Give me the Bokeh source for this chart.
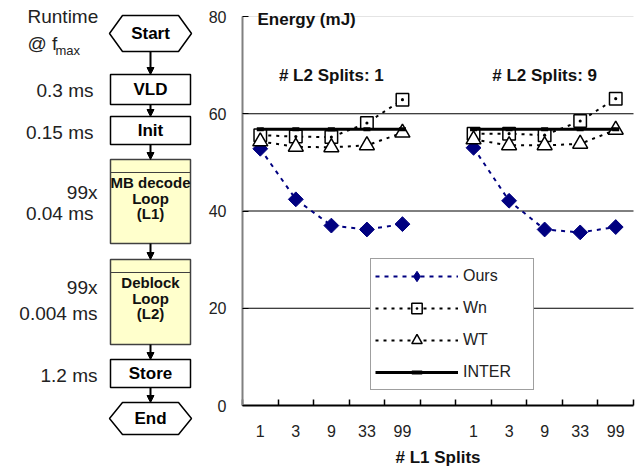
import numpy as np
from bokeh.plotting import figure
from bokeh.models import (Range1d, FixedTicker, Legend, LegendItem, Arrow, NormalHead,
                          ColumnDataSource, LinearAxis)
from bokeh.embed import file_html
from bokeh.resources import INLINE
from bokeh.core.properties import value

# ---------------- data ----------------
l1_splits = ["1", "3", "9", "33", "99"]
l2_splits = ["1", "9"]

ours_l2_1 = [52.8, 42.4, 37.0, 36.2, 37.3]
wn_l2_1 = [55.6, 55.3, 55.2, 58.1, 62.9]
wt_l2_1 = [54.3, 53.2, 53.1, 53.5, 56.1]
inter_l2_1 = [56.8, 56.8, 56.8, 56.8, 56.8]

ours_l2_9 = [53.0, 42.1, 36.2, 35.6, 36.7]
wn_l2_9 = [55.9, 55.9, 55.6, 58.5, 63.1]
wt_l2_9 = [54.7, 53.5, 53.5, 53.8, 56.7]
inter_l2_9 = [56.8, 56.8, 56.8, 56.8, 56.8]

y_ticks = [0, 20, 40, 60, 80]

# flowchart content
step_names = ["Start", "VLD", "Init", "MB decode|Loop|(L1)", "Deblock|Loop|(L2)", "Store", "End"]
step_kinds = ["terminal", "block", "block", "loop", "loop", "block", "terminal"]
runtime_labels = ["0.3 ms", "0.15 ms", "99x", "0.04 ms", "99x", "0.004 ms", "1.2 ms"]

FONT = value("Liberation Sans")

# ---------------- layout (page pixels) ----------------
W, H = 638, 466
chart_left, chart_right, chart_top, chart_bottom = 242, 633, 16, 405

n = len(l1_splits)
gap = 1
slots = [i for i in range(n)] + [n] + [n + gap + i for i in range(n)]
n_slots = len(slots)
x_pos = [s + 0.5 for s in slots]
tick_labels = l1_splits + [""] + l1_splits
y_max = y_ticks[-1]

px_x = (chart_right - chart_left) / n_slots
px_y = (chart_bottom - chart_top) / y_max
cx_start = -chart_left / px_x
cy_start = -(H - chart_bottom) / px_y

p = figure(width=W, height=H, x_range=Range1d(0, W), y_range=Range1d(H, 0),
           output_backend="svg", toolbar_location=None, min_border=0,
           x_axis_type=None, y_axis_type=None)
p.title.visible = False
p.grid.visible = False
p.outline_line_color = None
p.background_fill_color = "white"
p.border_fill_color = "white"
p.extra_x_ranges = {"cx": Range1d(cx_start, cx_start + W / px_x)}
p.extra_y_ranges = {"cy": Range1d(cy_start, cy_start + H / px_y)}

# ---------------- flowchart (left) ----------------
box_left, box_right, cx = 110, 190, 150
step_top = [15, 74, 116, 159, 259, 359, 402]
step_bottom = [51, 104, 144, 243, 344, 387, 434]
label_right = [93, 93, 97, 93, 97, 97, 97]
label_y = [90, 132, 192, 213, 287, 313, 375]

for name, kind, top, bot in zip(step_names, step_kinds, step_top, step_bottom):
    mid = (top + bot) / 2
    if kind == "terminal":
        p.patch([box_left - 1, box_left + 12, box_right - 12, box_right + 1, box_right - 12, box_left + 12],
                [mid, top, top, mid, bot, bot], fill_color="white", line_color="black", line_width=1.5)
        p.text([cx], [mid], text=[name], text_align="center", text_baseline="middle",
               text_font=FONT, text_font_style="bold", text_font_size="17px", text_color="black")
    elif kind == "block":
        p.quad(left=[box_left], right=[box_right], top=[top], bottom=[bot],
               fill_color="white", line_color="black", line_width=1.5)
        p.text([cx], [mid], text=[name], text_align="center", text_baseline="middle",
               text_font=FONT, text_font_style="bold", text_font_size="17px", text_color="black")
    else:
        p.quad(left=[box_left], right=[box_right], top=[top], bottom=[bot],
               fill_color="#FFFFCC", line_color="#404040", line_width=1.5)
        p.segment(x0=[box_left], x1=[box_right], y0=[top + 13], y1=[top + 13],
                  line_color="#404040", line_width=1.2)
        lines = name.split("|")
        ys = [top + 23 + 15.5 * k for k in range(len(lines))]
        p.text([cx] * len(lines), ys, text=lines, text_align="center", text_baseline="middle",
               text_font=FONT, text_font_style="bold", text_font_size="15px", text_color="#111111")

for k in range(len(step_top) - 1):
    p.add_layout(Arrow(end=NormalHead(size=7, fill_color="black", line_color="black", line_width=1),
                       x_start=cx, y_start=step_bottom[k], x_end=cx, y_end=step_top[k + 1],
                       line_color="black", line_width=2))

p.text(label_right, label_y, text=runtime_labels, text_align="right", text_baseline="middle",
       text_font=FONT, text_font_size="19px", text_color="#222222")
p.text([27], [16], text=["Runtime"], text_align="left", text_baseline="middle",
       text_font=FONT, text_font_size="19px", text_color="#222222")
p.text([27], [43], text=["@ f"], text_align="left", text_baseline="middle",
       text_font=FONT, text_font_size="19px", text_color="#222222")
p.text([55], [50], text=["max"], text_align="left", text_baseline="middle",
       text_font=FONT, text_font_size="13px", text_color="#222222")

# ---------------- energy chart (right) ----------------
CH = dict(x_range_name="cx", y_range_name="cy")


def join(a, b):
    return list(a) + [np.nan] + list(b)


src = ColumnDataSource(dict(
    x=x_pos,
    ours=join(ours_l2_1, ours_l2_9),
    wn=join(wn_l2_1, wn_l2_9),
    wt=join(wt_l2_1, wt_l2_9),
    inter=join(inter_l2_1, inter_l2_9),
))

# grid lines inside the chart
inner = y_ticks[1:-1]
p.segment(x0=[0] * len(inner), x1=[n_slots] * len(inner), y0=inner, y1=inner,
          line_color="black", line_width=1, **CH)
p.segment(x0=[0], x1=[n_slots], y0=[y_max], y1=[y_max], line_color="#e4e4e4", line_width=1, **CH)

# axes fixed at the chart's origin
yax = LinearAxis(fixed_location=0, bounds=(0, y_max), ticker=FixedTicker(ticks=y_ticks), **CH)
yax.axis_line_color = "#808080"
yax.axis_line_width = 2
yax.major_tick_in = 6
yax.major_tick_out = 0
yax.major_tick_line_color = "black"
yax.minor_tick_line_color = None
yax.major_label_standoff = 16
yax.major_label_text_font = "Liberation Sans"
yax.major_label_text_font_size = "16px"
yax.major_label_text_color = "#222222"
p.add_layout(yax, "left")

centers = [x for x, lab in zip(x_pos, tick_labels) if lab]
xax = LinearAxis(fixed_location=0, bounds=(0, n_slots),
                 ticker=FixedTicker(ticks=centers, minor_ticks=list(range(n_slots + 1))), **CH)
xax.major_label_overrides = {x: lab for x, lab in zip(x_pos, tick_labels) if lab}
xax.major_tick_line_color = None
xax.minor_tick_in = 6
xax.minor_tick_out = 0
xax.minor_tick_line_color = "black"
xax.minor_tick_line_width = 1.5
xax.axis_line_color = "black"
xax.axis_line_width = 2
xax.major_label_standoff = 13
xax.major_label_text_font = "Liberation Sans"
xax.major_label_text_font_size = "16px"
xax.major_label_text_color = "#222222"
xax.axis_label = "# L1 Splits"
xax.axis_label_standoff = 8
xax.axis_label_text_font = "Liberation Sans"
xax.axis_label_text_font_style = "bold"
xax.axis_label_text_font_size = "17px"
xax.axis_label_text_color = "#111111"
p.add_layout(xax, "below")

# series
l_ours = p.line("x", "ours", source=src, line_color="#000080", line_width=2, line_dash="4 5", **CH)
s_ours = p.scatter("x", "ours", source=src, marker="square", angle=np.pi / 4, size=10.5,
                   fill_color="#000080", line_color="#000080", **CH)
l_wn = p.line("x", "wn", source=src, line_color="black", line_width=2, line_dash="3 5", **CH)
s_wn = p.scatter("x", "wn", source=src, marker="square_dot", size=12.5,
                 fill_color="white", line_color="black", line_width=1.5, **CH)
l_wt = p.line("x", "wt", source=src, line_color="black", line_width=2, line_dash="3 5", **CH)
s_wt = p.scatter("x", "wt", source=src, marker="triangle", size=15,
                 fill_color="white", line_color="black", line_width=1.5, **CH)
l_inter = p.line("x", "inter", source=src, line_color="black", line_width=3, **CH)
s_inter = p.scatter("x", "inter", source=src, marker="dash", size=7, line_color="black",
                    line_width=4, **CH)
# legend-only diamond sample (a single undrawn NaN point)
leg_ours = p.scatter(x=[np.nan], y=[np.nan], marker="diamond", fill_color="#000080",
                     line_color="#000080", **CH)

legend = Legend(items=[
    LegendItem(label="Ours", renderers=[l_ours, leg_ours]),
    LegendItem(label="Wn", renderers=[l_wn, s_wn]),
    LegendItem(label="WT", renderers=[l_wt, s_wt]),
    LegendItem(label="INTER", renderers=[l_inter, s_inter]),
], location=(370, H - 390), orientation="vertical", padding=4, spacing=6, margin=0,
    glyph_height=26, glyph_width=83, label_height=26, label_standoff=5, label_width=66,
    label_text_font="Liberation Sans", label_text_font_size="16px", label_text_color="#222222",
    border_line_color="#404040", border_line_width=1.5, background_fill_color="white",
    background_fill_alpha=1.0)
p.add_layout(legend)

# titles inside the chart
p.text([0], [y_max], text=["Energy (mJ)"], x_offset=15, y_offset=3, text_align="left",
       text_baseline="middle", text_font=FONT, text_font_style="bold", text_font_size="17px",
       text_color="#111111", **CH)
panel_x = [float(np.mean(x_pos[k * (n + gap):k * (n + gap) + n])) for k in range(len(l2_splits))]
p.text(panel_x, [67.8] * len(panel_x), text=["# L2 Splits: " + s for s in l2_splits],
       text_align="center", text_baseline="middle", text_font=FONT, text_font_style="bold",
       text_font_size="17px", text_color="#111111", **CH)

open("out.html", "w").write(file_html(p, INLINE))
